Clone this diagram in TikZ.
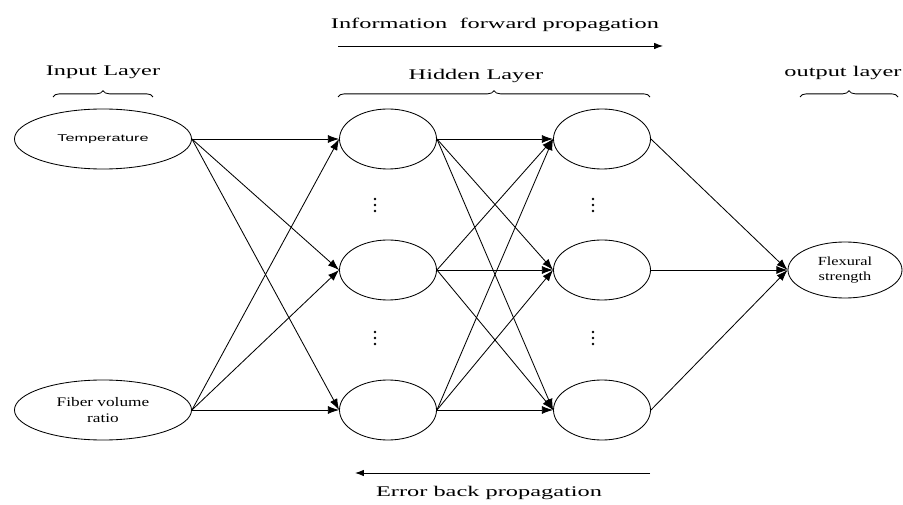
\documentclass[tikz,border=0pt]{standalone}
\usepackage{fontspec}
\setmainfont{Liberation Serif}
\newfontfamily\titlefont[FakeStretch=1.65]{Liberation Serif}
\newfontfamily\nodefont[FakeStretch=1.32]{Liberation Serif}
\newfontfamily\labelsans[FakeStretch=1.65]{Liberation Sans}
\usetikzlibrary{shapes.geometric,arrows.meta,decorations.pathreplacing}

\begin{document}
\begin{tikzpicture}[
        x=0.025cm, y=-0.025cm,
        inputnode/.style={ellipse, draw, line width=0.6pt, minimum width=4.425cm, minimum height=1.5cm, inner sep=0pt, align=center},
        hiddennode/.style={ellipse, draw, line width=0.6pt, minimum width=2.425cm, minimum height=1.5cm, inner sep=0pt},
        outputnode/.style={ellipse, draw, line width=0.6pt, minimum width=2.85cm, minimum height=1.4cm, inner sep=0pt, align=center},
        link/.style={-{Latex[length=2.8mm,width=2mm]}, line width=0.6pt},
        layerbrace/.style={decorate, decoration={brace, amplitude=4.5pt}, line width=0.6pt},
        title/.style={font=\titlefont\fontsize{10.5pt}{12pt}\selectfont},
        vdot/.style={fill=black}
    ]
    \useasboundingbox (0,0) rectangle (903,505);

    % Input layer
    \node[inputnode, font=\labelsans\fontsize{7pt}{8pt}\selectfont] (temp) at (103,139) {Temperature};
    \node[inputnode, font=\nodefont\fontsize{9.3pt}{11pt}\selectfont] (fiber) at (103,410) {Fiber volume\\ ratio};

    % Hidden layer
    \node[hiddennode] (h1a) at (388,139) {};
    \node[hiddennode] (h1b) at (388,270) {};
    \node[hiddennode] (h1c) at (388,410) {};
    \node[hiddennode] (h2a) at (602,139) {};
    \node[hiddennode] (h2b) at (602,270) {};
    \node[hiddennode] (h2c) at (602,410) {};

    % Vertical dots between hidden nodes
    \fill[vdot] (375,199) circle (1.4) (375,205) circle (1.4) (375,211) circle (1.4);
    \fill[vdot] (375,332) circle (1.4) (375,338) circle (1.4) (375,344) circle (1.4);
    \fill[vdot] (593,199) circle (1.4) (593,205) circle (1.4) (593,211) circle (1.4);
    \fill[vdot] (593,332) circle (1.4) (593,338) circle (1.4) (593,344) circle (1.4);

    % Output layer
    \node[outputnode, font=\nodefont\fontsize{8.8pt}{10.5pt}\selectfont] (flex) at (845,270) {Flexural\\ strength};

    % Connections
    \draw[link] (temp.east) -- (h1a.west);
    \draw[link] (temp.east) -- (h1b.west);
    \draw[link] (temp.east) -- (h1c.west);
    \draw[link] (fiber.east) -- (h1a.west);
    \draw[link] (fiber.east) -- (h1b.west);
    \draw[link] (fiber.east) -- (h1c.west);

    \draw[link] (h1a.east) -- (h2a.west);
    \draw[link] (h1a.east) -- (h2b.west);
    \draw[link] (h1a.east) -- (h2c.west);
    \draw[link] (h1b.east) -- (h2a.west);
    \draw[link] (h1b.east) -- (h2b.west);
    \draw[link] (h1b.east) -- (h2c.west);
    \draw[link] (h1c.east) -- (h2a.west);
    \draw[link] (h1c.east) -- (h2b.west);
    \draw[link] (h1c.east) -- (h2c.west);

    \draw[link] (h2a.east) -- (flex.west);
    \draw[link] (h2b.east) -- (flex.west);
    \draw[link] (h2c.east) -- (flex.west);

    % Layer titles and braces
    \node[title] (intitle) at (103,72) {Input Layer};
    \draw[layerbrace] (53,97) -- (153,97);
    \node[title] (hidtitle) at (476,76) {Hidden Layer};
    \draw[layerbrace] (338,97) -- (650,97);
    \node[title] (outtitle) at (843,73) {output layer};
    \draw[layerbrace] (800,97) -- (898,97);

    % Propagation directions
    \node[title] (fwdtext) at (495,25) {Information\ \ forward propagation};
    \coordinate (fwdstart) at (338,46);
    \coordinate (fwdend) at (663,46);
    \draw[-{Latex[length=2.2mm,width=1.6mm]}, line width=0.6pt] (fwdstart) -- (fwdend);

    \coordinate (backstart) at (650,473);
    \coordinate (backend) at (355,473);
    \draw[-{Latex[length=2.2mm,width=1.6mm]}, line width=0.6pt] (backstart) -- (backend);
    \node[title] (backtext) at (489,493) {Error back propagation};
    \end{tikzpicture}
\end{document}
